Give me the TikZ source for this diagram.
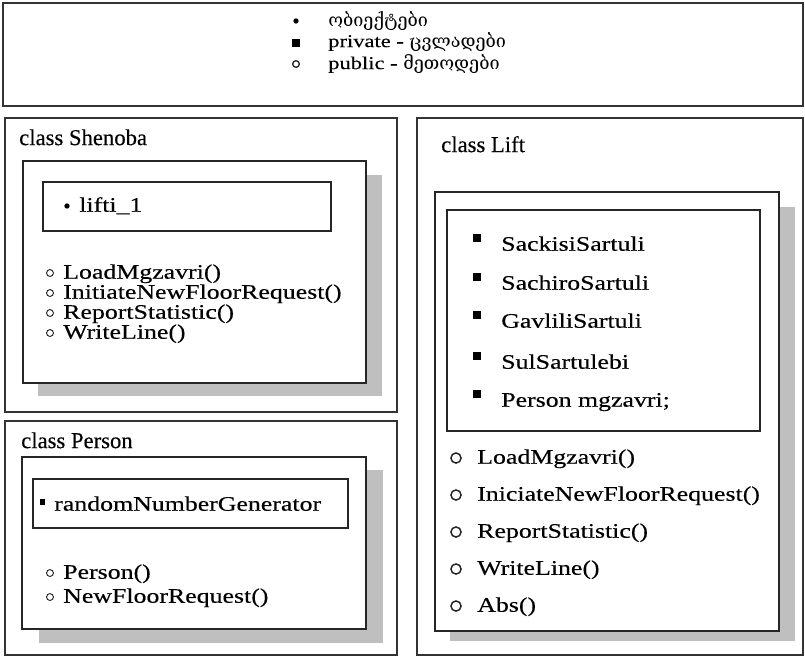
\documentclass[tikz,border=0pt]{standalone}
\usepackage{fontspec}
\setmainfont{Liberation Serif}[FakeStretch=1.25,FakeBold=0.3]
\newfontfamily\hdr{Liberation Serif}[FakeBold=0.3]
\newfontfamily\geo{DejaVu Serif}
\begin{document}
\begin{tikzpicture}[x=0.75pt,y=-0.75pt,
  frame/.style={draw=black!80,line width=1.4pt},
  inbox/.style={draw=black!85,fill=white,line width=1.4pt},
  shade/.style={fill=black!25,draw=none},
  txt/.style={anchor=base west,inner sep=0pt,yshift=-4.3pt,font=\fontsize{15.5}{18}\selectfont},
  cls/.style={anchor=base west,inner sep=0pt,yshift=-5.3pt,font=\hdr\fontsize{17}{20}\selectfont},
  leg/.style={anchor=base west,inner sep=0pt,yshift=-3.8pt,font=\fontsize{13.5}{16}\selectfont},
  ocirc/.style={draw=black!85,line width=0.7pt},
  bigo/.style={draw=black!85,line width=1.1pt}
]
\useasboundingbox (0,0) rectangle (805,658);
% legend
\draw[frame] (3,3) rectangle (803,106);
\fill (296,21) circle (2pt);
\node[leg] (l1) at (328,21) {\geo ობიექტები};
\fill (292,38.5) rectangle (300,46.5);
\node[leg] (l2) at (328,42) {private - {\geo ცვლადები}};
\draw[ocirc,line width=1pt] (296,64) circle (2.5pt);
\node[leg] (l3) at (328,64) {public - {\geo მეთოდები}};
% Shenoba
\draw[frame] (5,118) rectangle (397,412);
\node[cls] (shT) at (19,138) {class Shenoba};
\fill[shade] (38,175) rectangle (382,396);
\draw[inbox] (23,161) rectangle (366,383);
\draw[inbox] (43,182) rectangle (331,231);
\fill (67,206) circle (2pt);
\node[txt] (lifti) at (79,206) {lifti\_1};
\foreach \y/\t [count=\i] in {273/LoadMgzavri(),293/InitiateNewFloorRequest(),313/ReportStatistic(),333/WriteLine()}{
  \draw[ocirc] (50,\y) circle (2.6pt);
  \node[txt] (shM\i) at (63,\y) {\t};
}
% Person
\draw[frame] (5,421) rectangle (397,655);
\node[cls] (peT) at (21,441) {class Person};
\fill[shade] (39,470) rectangle (383,643);
\draw[inbox] (22,457) rectangle (366,629);
\draw[inbox] (33,479) rectangle (348,528);
\fill (39.5,499) rectangle (45,504.5);
\node[txt] (rng) at (54,505) {randomNumberGenerator};
\foreach \y/\t [count=\i] in {573/Person(),597/NewFloorRequest()}{
  \draw[ocirc] (50,\y) circle (2.6pt);
  \node[txt] (peM\i) at (63,\y) {\t};
}
% Lift
\draw[frame] (417,118) rectangle (803,655);
\node[cls] (liT) at (441,145) {class Lift};
\fill[shade] (450,207) rectangle (795,641);
\draw[inbox] (435,192) rectangle (779,631);
\draw[inbox] (447,210) rectangle (760,431);
\foreach \y/\t [count=\i] in {245/SackisiSartuli,284/SachiroSartuli,322/GavliliSartuli,363/SulSartulebi,401/Person mgzavri;}{
  \fill (473,\y-11) rectangle (481,\y-3);
  \node[txt] (liA\i) at (501,\y) {\t};
}
\foreach \y/\t [count=\i] in {458/LoadMgzavri(),495/IniciateNewFloorRequest(),532/ReportStatistic(),569/WriteLine(),606/Abs()}{
  \draw[bigo] (456,\y) circle (3.8pt);
  \node[txt] (liM\i) at (477,\y) {\t};
}
\end{tikzpicture}
\end{document}
